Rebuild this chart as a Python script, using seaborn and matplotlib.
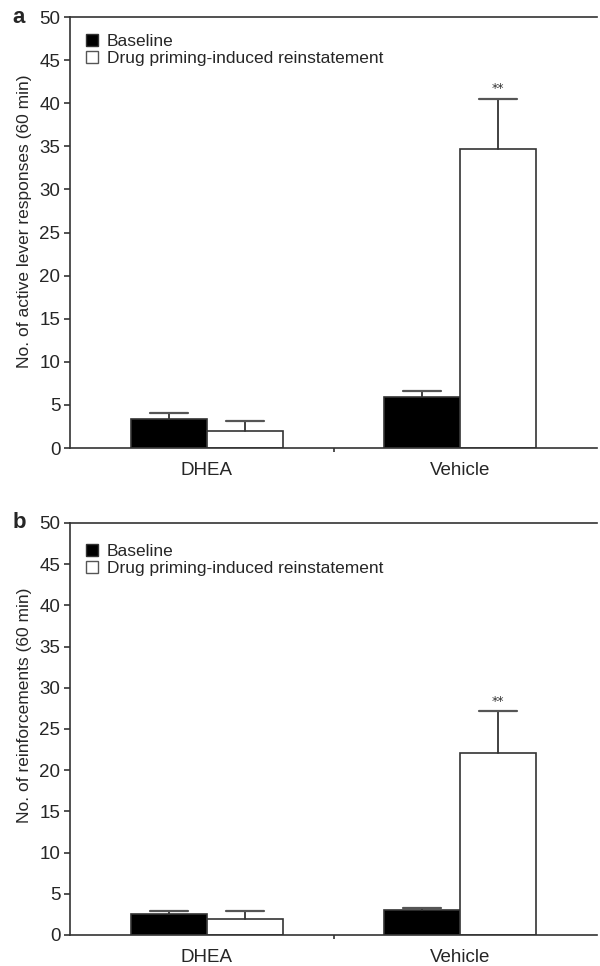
import matplotlib
matplotlib.use("Agg")
import matplotlib.pyplot as plt
import seaborn as sns
import pandas as pd
import numpy as np
from matplotlib.patches import Patch

sns.set_theme(style="white")
plt.rcParams['font.family'] = ['Liberation Sans', 'DejaVu Sans']

groups = ["DHEA", "Vehicle"]
conditions = ["Baseline", "Drug priming-induced reinstatement"]

# Panel a: active lever responses
a_baseline = [3.4, 5.9]
a_baseline_sem = [0.7, 0.7]
a_priming = [2.0, 34.7]
a_priming_sem = [1.1, 5.8]

# Panel b: reinforcements
b_baseline = [2.5, 3.0]
b_baseline_sem = [0.4, 0.3]
b_priming = [1.9, 22.1]
b_priming_sem = [1.0, 5.1]

yticks = [0, 5, 10, 15, 20, 25, 30, 35, 40, 45, 50]
ylabels = ["No. of active lever responses (60 min)", "No. of reinforcements (60 min)"]
panel_letters = ["a", "b"]
signif = "**"

fig = plt.figure(figsize=(6.0, 9.66), dpi=100)
ax_a = fig.add_axes([0.117, 0.5362, 0.878, 0.4462])
ax_b = fig.add_axes([0.117, 0.0321, 0.878, 0.4265])

panels = [
    (ax_a, a_baseline, a_baseline_sem, a_priming, a_priming_sem, 0.985, 0.527),
    (ax_b, b_baseline, b_baseline_sem, b_priming, b_priming_sem, 0.975, 0.558),
]

palette = {conditions[0]: "black", conditions[1]: "white"}

for i, (ax, base, base_sem, prim, prim_sem, leg_y, lab_y) in enumerate(panels):
    df = pd.DataFrame({
        "group": groups * 2,
        "condition": [conditions[0]] * 2 + [conditions[1]] * 2,
        "value": base + prim,
        "sem": base_sem + prim_sem,
    })
    sns.barplot(data=df, x="group", y="value", hue="condition", order=groups,
                hue_order=conditions, palette=palette, errorbar=None,
                width=0.6, edgecolor="#333333", linewidth=1.2, ax=ax, legend=False,
                saturation=1)
    patches = [p for p in ax.patches if p.get_height() > 0]
    patches = sorted(patches, key=lambda p: p.get_x())
    vals = [base[0], prim[0], base[1], prim[1]]
    sems = [base_sem[0], prim_sem[0], base_sem[1], prim_sem[1]]
    for p, v, s in zip(patches, vals, sems):
        cx = p.get_x() + p.get_width() / 2
        cw = p.get_width() * 0.25
        ax.plot([cx, cx], [v, v + s], color="#333333", lw=1.3, zorder=3)
        ax.plot([cx - cw, cx + cw], [v + s, v + s], color="#555555", lw=1.6, zorder=3)
    p = patches[3]
    cx = p.get_x() + p.get_width() / 2
    ax.text(cx, prim[1] + prim_sem[1] + 0.4, signif, ha="center", va="bottom",
            fontsize=9, color="#333333", family="DejaVu Sans")

    ax.set_xlim(-0.54, 1.54)
    ax.set_ylim(0, 50)
    ax.set_yticks(yticks)
    ax.set_yticklabels([str(t) for t in yticks], fontsize=13.5)
    ax.set_xticks([0, 1])
    ax.set_xticklabels(groups, fontsize=13.5)
    ax.set_xticks([0.5], minor=True)
    ax.tick_params(axis="x", which="major", length=0, pad=10)
    ax.tick_params(axis="x", which="minor", length=3, width=1.2, direction="out",
                   color="#333333", bottom=True)
    ax.tick_params(axis="y", which="major", length=4, width=1.2, direction="out",
                   color="#333333", left=True, pad=3)
    ax.set_xlabel("")
    ax.set_ylabel(ylabels[i], fontsize=12.5)
    ax.yaxis.set_label_coords(-0.072, lab_y)
    for side in ["left", "bottom", "top"]:
        ax.spines[side].set_visible(True)
        ax.spines[side].set_color("#333333")
        ax.spines[side].set_linewidth(1.2)
    ax.spines["right"].set_visible(False)

    handles = [Patch(facecolor="black", edgecolor="#333333", label=conditions[0]),
               Patch(facecolor="white", edgecolor="#555555", label=conditions[1])]
    ax.legend(handles=handles, loc="upper left", bbox_to_anchor=(0.01, leg_y),
              frameon=False, fontsize=12.5, handlelength=0.7, handleheight=0.7,
              handletextpad=0.5, labelspacing=0.1, borderaxespad=0.2)
    ax.text(-0.11, 1.0, panel_letters[i], transform=ax.transAxes, fontsize=16,
            fontweight="bold", ha="left", va="center")

fig.savefig("out.png", dpi=100)
